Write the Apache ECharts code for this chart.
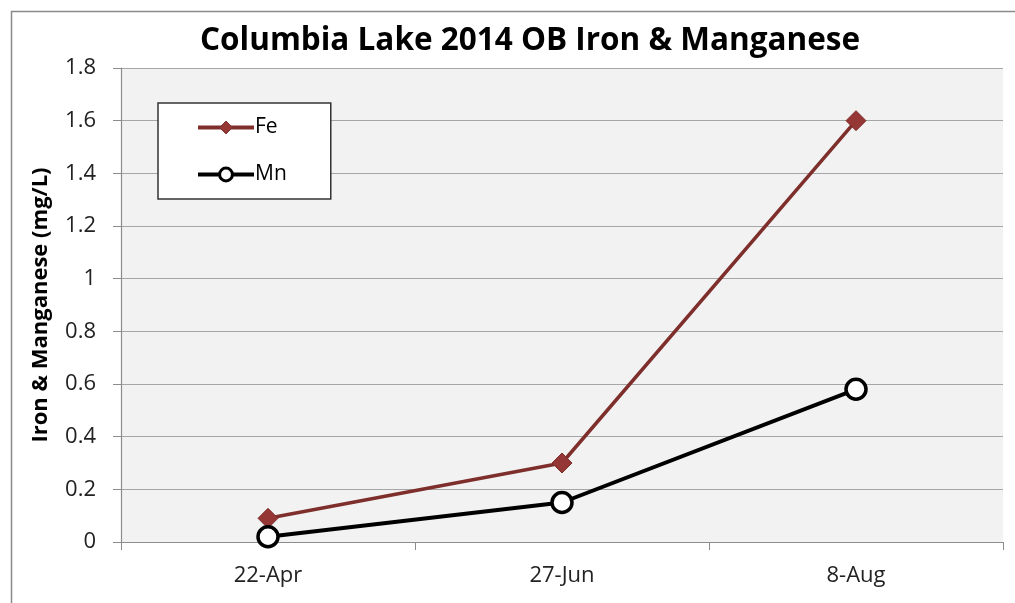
<!DOCTYPE html>
<html>
<head>
<meta charset="utf-8">
<script src="https://cdn.jsdelivr.net/npm/echarts@6/dist/echarts.min.js"></script>
<style>
  html, body { margin: 0; padding: 0; background: #fff; }
  #chart { width: 1015px; height: 603px; }
</style>
</head>
<body>
<div id="chart"></div>
<script>
// sampling dates
const dates = ["22-Apr", "27-Jun", "8-Aug"]
// iron and manganese, mg/L
const fe = [0.09, 0.30, 1.60]
const mn = [0.02, 0.15, 0.58]
const yTicks = [0, 0.2, 0.4, 0.6, 0.8, 1, 1.2, 1.4, 1.6, 1.8]

const font = "Open Sans"
const myChart = echarts.init(document.getElementById("chart"))

const option = {
  animation: false,
  textStyle: { fontFamily: font },
  title: {
    text: "Columbia Lake 2014 OB Iron & Manganese",
    left: 195,
    top: 20,
    textStyle: { fontFamily: font, fontSize: 31.5, fontWeight: "bold", color: "#000" }
  },
  graphic: [
    {
      type: "rect",
      left: 9, top: 9,
      shape: { width: 1030, height: 620 },
      style: { fill: "none", stroke: "#8a8a8a", lineWidth: 1.5 },
      silent: true
    }
  ],
  legend: {
    orient: "vertical",
    left: 158,
    top: 103,
    padding: [14, 44, 14, 38],
    itemWidth: 56,
    itemHeight: 16,
    itemGap: 26,
    backgroundColor: "#fff",
    borderColor: "#333",
    borderWidth: 1.5,
    borderRadius: 0,
    lineStyle: { width: 4 },
    textStyle: { fontFamily: font, fontSize: 21, color: "#000", padding: [0, 0, 0, -4] },
    data: [
      { name: "Fe", itemStyle: { borderWidth: 1 } },
      { name: "Mn", itemStyle: { borderWidth: 3 } }
    ]
  },
  grid: {
    left: 121, right: 12, top: 68, bottom: 61,
    show: true,
    backgroundColor: "#f2f2f2",
    borderWidth: 0
  },
  xAxis: {
    type: "category",
    data: dates,
    boundaryGap: true,
    axisLine: { lineStyle: { color: "#8c8c8c", width: 1.2 } },
    axisTick: { show: true, length: 8, lineStyle: { color: "#8c8c8c" } },
    axisLabel: { fontFamily: font, fontSize: 22, color: "#222", margin: 23 },
    splitLine: { show: false }
  },
  yAxis: {
    type: "value",
    min: 0,
    max: 1.8,
    interval: 0.2,
    name: "Iron & Manganese (mg/L)",
    nameLocation: "middle",
    nameGap: 69,
    nameTextStyle: { fontFamily: font, fontSize: 22, fontWeight: "bold", color: "#000" },
    axisLine: { show: true, lineStyle: { color: "#8c8c8c", width: 1.2 } },
    axisTick: { show: true, length: 8, lineStyle: { color: "#8c8c8c" } },
    axisLabel: {
      fontFamily: font, fontSize: 22, color: "#222", margin: 25,
      formatter: (v) => {
        const hit = yTicks.find((t) => Math.abs(t - v) < 1e-9)
        return hit === undefined ? "" : String(hit)
      }
    },
    splitLine: { show: true, lineStyle: { color: "#a6a6a6", width: 1.2 } }
  },
  series: [
    {
      name: "Fe",
      type: "line",
      data: fe,
      symbol: "diamond",
      symbolSize: 20,
      lineStyle: { color: "#7e2f2c", width: 3.5 },
      itemStyle: { color: "#953735", borderColor: "#7e2f2c", borderWidth: 1 },
      z: 3
    },
    {
      name: "Mn",
      type: "line",
      data: mn,
      symbol: "circle",
      symbolSize: 20,
      lineStyle: { color: "#000", width: 4 },
      itemStyle: { color: "#fff", borderColor: "#000", borderWidth: 3.5 },
      z: 4
    }
  ]
}

myChart.setOption(option)
</script>
</body>
</html>
